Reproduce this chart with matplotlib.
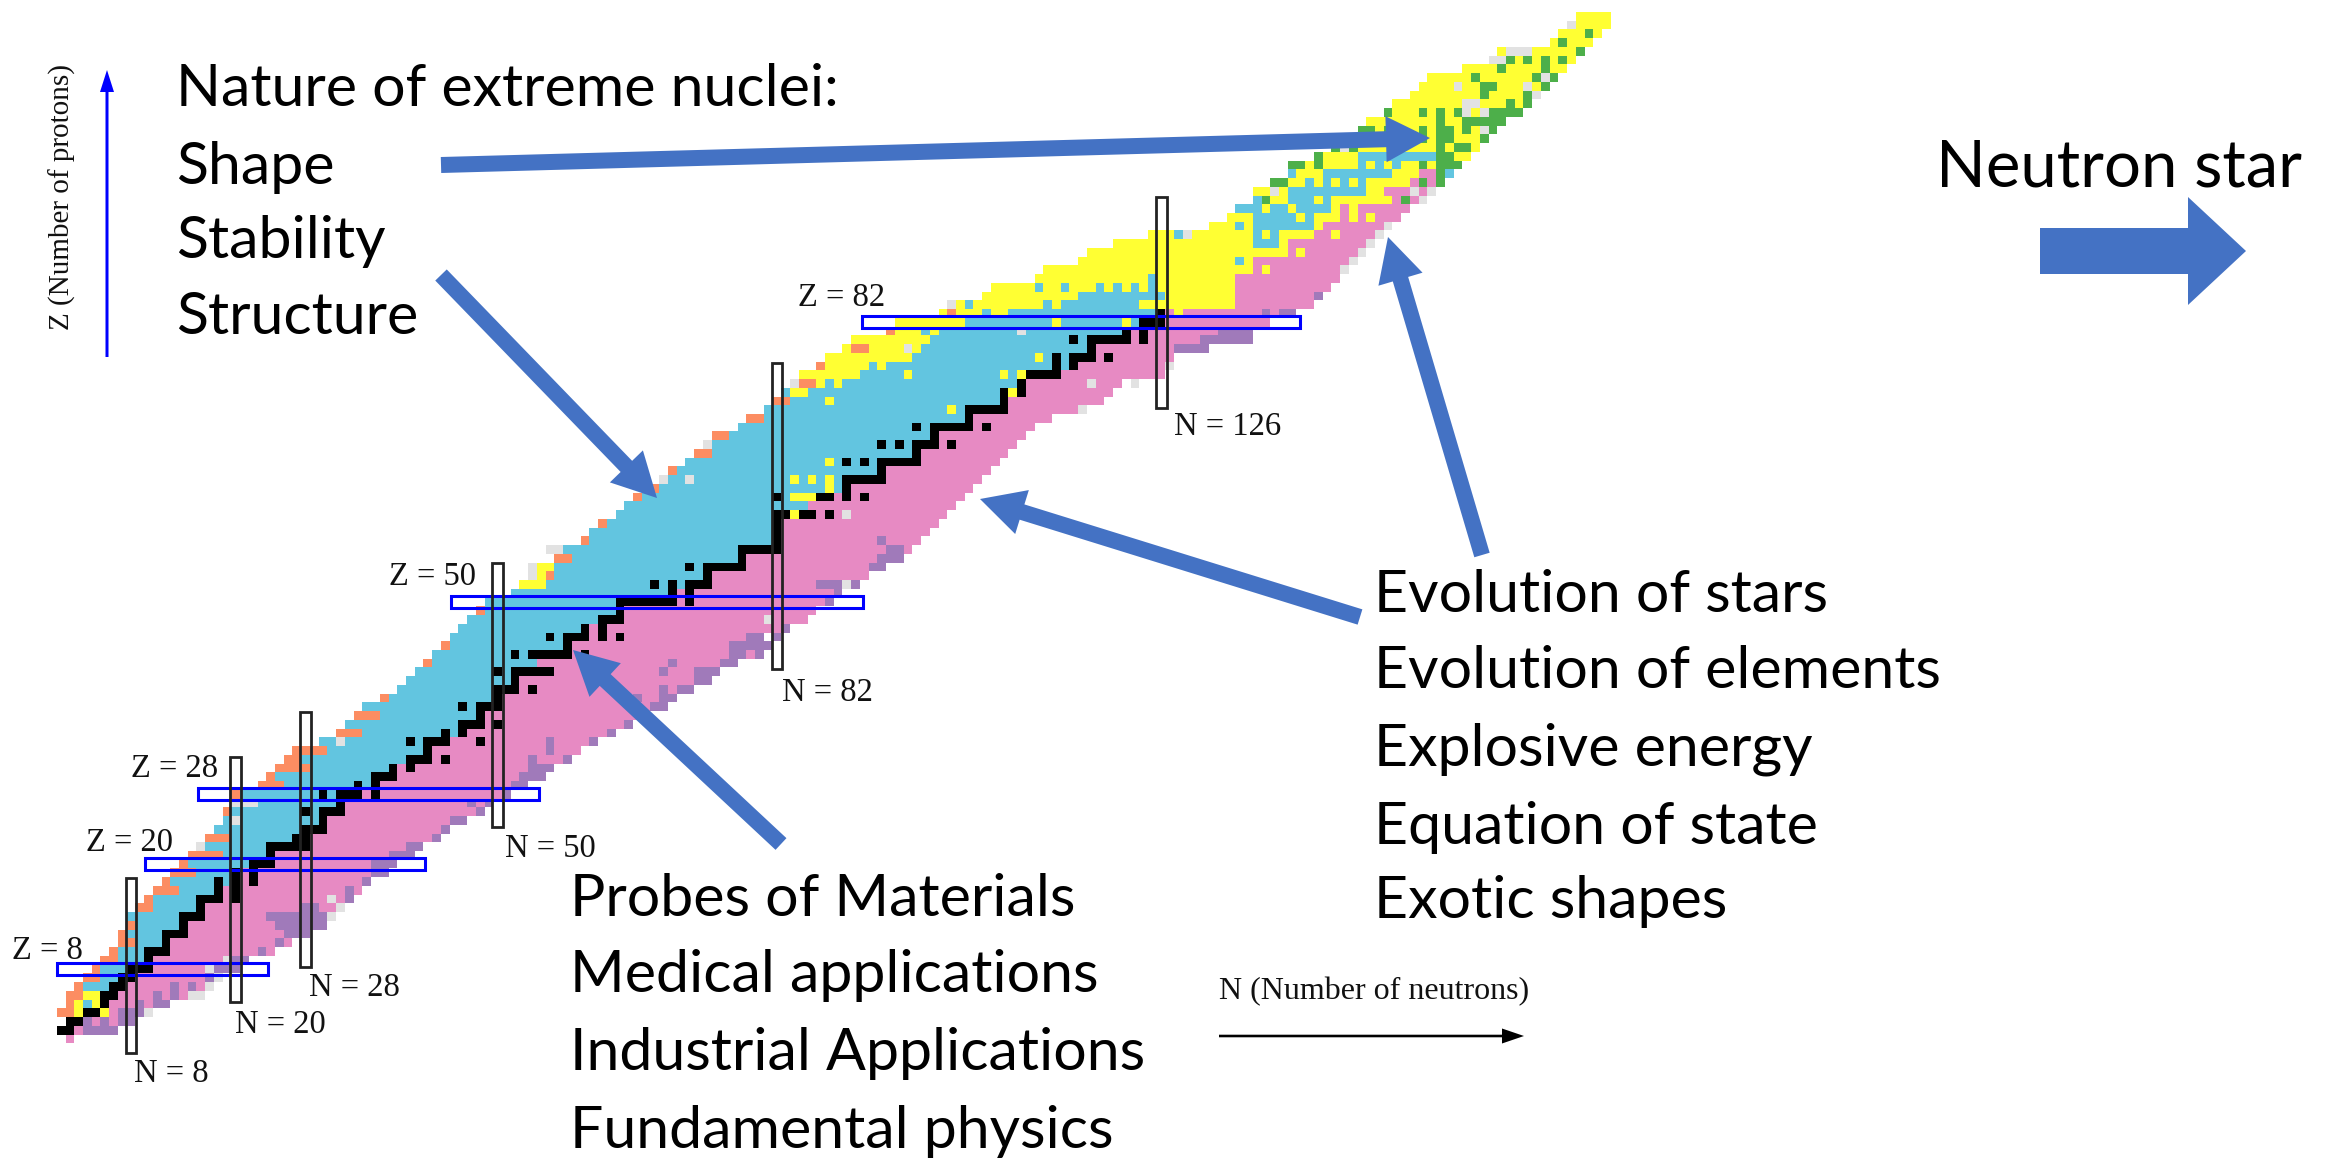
import numpy as np
import matplotlib
matplotlib.use("Agg")
import matplotlib.pyplot as plt
from matplotlib.colors import ListedColormap
from matplotlib.patches import FancyArrow, Rectangle

# ---- chart of nuclides: one row per proton number Z = 0..117 ----
N_FIRST = [1,0,1,0,1,1,2,3,4,5,6,7,7,8,8,9,10,11,12,13,14,15,16,17,18,19,19,20,20,23,24,25,26,27,30,32,33,34,35,37,
           39,40,41,42,43,44,45,46,47,48,49,52,53,54,54,57,56,60,61,62,64,65,66,67,69,70,72,73,74,75,78,79,81,82,83,84,85,87,88,90,
           91,95,96,101,102,106,107,112,113,117,118,121,125,132,134,135,137,137,139,141,141,144,146,148,149,150,152,153,155,156,157,161,164,165,171,172,173,174]
N_LAST = [1,6,8,10,12,16,17,18,20,21,24,26,28,30,31,32,33,34,35,37,38,40,41,43,44,46,48,49,51,53,55,56,58,59,61,63,65,66,69,70,
          72,74,75,77,80,81,80,83,85,86,88,89,91,92,94,96,97,98,99,100,101,102,103,104,105,106,107,108,109,110,111,113,117,119,120,121,126,127,127,131,
          136,136,138,141,143,144,145,146,147,148,149,150,151,152,153,154,156,157,158,159,160,161,162,163,164,165,167,168,169,170,171,172,173,174,175,176,177,177]
N_PINK = [1,2,3,6,6,7,8,9,11,11,13,13,15,15,17,17,19,19,21,21,25,25,29,29,31,31,33,33,35,37,39,39,43,43,45,47,49,49,51,51,
          53,53,57,55,59,59,61,61,65,65,71,71,75,75,79,79,83,83,83,83,87,86,89,91,95,95,99,99,101,101,105,105,109,109,111,111,115,117,119,119,
          123,123,127,127,135,135,135,135,137,137,141,141,144,145,147,147,153,152,155,156,161,162,163,164,165,166,168,169,170,171,172,173,174,175,176,177,178,178]

BLACK = {1:[(0,1)],2:[(1,2)],3:[(3,4)],4:[5],5:[(5,6)],6:[(6,7)],7:[(7,8)],8:[(8,10)],9:[10],10:[(10,12)],11:[12],12:[(12,14)],
         13:[14],14:[(14,16)],15:[16],16:[(16,18),20],17:[18,20],18:[18,20,22],19:[20,22],20:[(22,24)],21:[24],22:[(24,28)],23:[27,28],
         24:[(28,30)],25:[30],26:[28,(30,32)],27:[32],28:[30,(32,34),36],29:[34,36],30:[(36,38)],31:[38,40],32:[(40,42),44],33:[42],
         34:[40,(42,44),48],35:[44,46],36:[(46,48),50],37:[48],38:[46,(48,50)],39:[50],40:[(50,52),54],41:[52],42:[50,(52,56)],
         44:[52,(54,58),60],45:[58],46:[56,(58,60),62,64],47:[60,62],48:[(62,64)],49:[64],50:[(64,70),72],51:[70,72],52:[68,70,(72,74)],
         53:[74],54:[72,(74,78)],55:[78],56:[(78,82)],57:[82],58:[82],59:[82],60:[82,83,85,86,88],62:[82,87,88,90,92],63:[90],64:[(90,94)],
         65:[94],66:[90,92,(94,98)],67:[98],68:[94,96,(98,100),102],69:[100],70:[98,(100,104),106],71:[104],72:[(104,108)],73:[108],
         74:[108,110],75:[110],76:[(111,114)],77:[114,116],78:[114,(116,118),120],79:[118],80:[116,(118,122),124],81:[122,124],
         82:[(124,126)],83:[126]}
YELLOW = {3:[2,5],4:[2,4],5:[(3,4)],52:[(53,55)],53:[55],54:[(55,56)],60:[84],62:[(84,86)],63:[88],64:[84,86,88],66:[88],72:[102],73:[88],
          74:[(84,85),109],75:[87,89],76:[(85,91),97,108,110],77:[(88,92),94],78:[(88,97),112],79:[90,(93,98)],80:[(91,99)],81:[(96,98),100],
          82:[(96,103),114,122],83:[101,(103,105),(107,108),128],84:[103,(105,112),114,(124,134)],85:[(106,116),(127,134)],
          86:[(107,111),(113,114),(116,118),120,122,124,(126,134)],87:[(112,124),(126,134)],88:[(113,136),138],89:[(117,134),136],
          90:[(118,140),142],91:[(121,136),140],92:[(125,127),(130,136),138,(140,143),146],93:[(132,134),136,144],
          94:[(134,136),142,(144,146),148,150],95:[138,141,146,148],96:[(139,140),144,(146,152)],97:[(137,138),140,(150,151)],
          98:[(141,142),144,146,148,(150,154)],99:[(142,144),(153,155)],100:[143,(145,148),150,152,(154,155),157],101:[(145,148),(160,161)],
          102:[(146,162)],103:[(148,163)],104:[(149,164)],105:[(150,165)],106:[(152,167)],107:[(153,168)],108:[(155,169)],109:[(156,170)],
          110:[(157,171)],111:[(161,172)],112:[(164,173)],113:[(165,174)],114:[(171,175)],115:[(172,176)],116:[(173,177)],117:[(174,177)]}
CYAN_EXTRA = {99:[159],101:[(149,157)]}
ORANGE = {3:[(0,1)],4:[1],5:[(1,2)],6:[2],7:[(3,4)],8:[4],9:[(5,6)],10:[6],11:[(7,8)],12:[7],13:[8],15:[(9,10)],16:[10],17:[(11,13)],18:[12],
          19:[(13,15)],20:[14],21:[(15,18)],23:[(17,19)],26:[19],28:[20],29:[(23,25)],30:[24],31:[(25,28)],32:[(26,27)],33:[(27,30)],
          35:[(32,34)],37:[(34,36)],39:[37],43:[42],45:[44],49:[48],53:[56],55:[(57,58)],57:[60],59:[62],62:[66],63:[68],65:[70],
          67:[(73,74)],69:[(75,76)],71:[(79,80)],73:[(82,83)],75:[(85,86)],77:[87],79:[(91,92)],81:[95],83:[102]}
GREY = {3:[10],5:[(15,16)],6:[17],7:[18],8:[17],9:[19],14:[31],15:[32],16:[31],22:[16],25:[20],27:[(20,22)],34:[32],48:[81],52:[90],53:[54],54:[54],
        56:[(56,57)],60:[90],64:[69,72],68:[74],72:[117],75:[84,118,123],77:[127],79:[97],81:[110],84:[102],88:[147],89:[148],90:[149],91:[150],
        92:[129,151],93:[152],96:[156],97:[139,155,157],102:[147],104:[163],106:[161,163],107:[(161,162)],108:[169],109:[160,168],110:[170],
        112:[(164,165)],113:[(166,168)],116:[173]}
PURPLE = {1:[(3,6)],2:[3,5,(7,8)],3:[(7,9)],4:[9,(11,12)],5:[11,13],6:[13,15],7:[17],8:[(18,20)],9:[(20,21)],10:[23],11:[25],12:[(26,28)],
          13:[(25,30)],14:[(24,30)],15:[(28,29)],16:[33],17:[33],18:[35],19:[(36,37)],20:[(36,38)],21:[(38,40)],22:[(40,41)],23:[43],24:[44],
          25:[(45,46)],26:[48],27:[47,49],28:[51],29:[(52,53)],30:[(53,55)],31:[(54,56)],32:[54,58],33:[56],34:[56,61],35:[63],36:[65],
          38:[(68,69)],39:[66,(69,70)],40:[69,(71,72)],41:[(73,74)],42:[69,(73,75)],43:[70,(76,77)],44:[(77,78),80],45:[(77,81)],46:[(79,80),82],
          47:[83],50:[88],51:[89],52:[(87,89),91],54:[(93,94)],55:[(94,96)],56:[(95,96)],57:[94],79:[(128,131)],80:[(131,136)],81:[(133,136)],
          83:[138,(140,141)],85:[144]}
GREEN = {96:[138,154],98:[(139,140),156,158],99:[158],100:[(141,142),144,156,(158,160)],101:[144,(158,159)],102:[146,148,158,(160,161)],
         103:[156,(158,159),163],104:[(149,150),152,156,(158,159),161,164],105:[158,(161,165)],106:[152,156,158,160,(164,167)],
         107:[166,168],108:[163,168],109:[(163,164),170],110:[162,169,171],111:[165,170],112:[166,168,170,172],113:[174],114:[172],115:[175]}

MAGIC_Z = {8:(-0.5,23.7),20:(9.6,41.7),28:(15.7,54.7),50:(44.7,91.8),82:(91.7,141.9)}
MAGIC_N = {8:(-1.6,18.4),20:(4.2,32.3),28:(8.2,37.4),50:(24.2,54.4),82:(42.3,77.3),126:(72.2,96.3)}

Z_LABELS = {"Z = 8":(12,951),"Z = 20":(86,843),"Z = 28":(131,769),"Z = 50":(389,577),"Z = 82":(798,298)}
N_LABELS = {"N = 8":(134,1074),"N = 20":(235,1025),"N = 28":(309,988),"N = 50":(505,849),"N = 82":(782,693),"N = 126":(1174,427)}
TEXT_TOPLEFT = ["Nature of extreme nuclei:","Shape","Stability","Structure"]
TEXT_TOPLEFT_Y = [89,167,242,318]
TEXT_RIGHT = ["Evolution of stars","Evolution of elements","Explosive energy","Equation of state","Exotic shapes"]
TEXT_RIGHT_Y = [595,672,749,827,902]
TEXT_BOTTOM = ["Probes of Materials","Medical applications","Industrial Applications","Fundamental physics"]
TEXT_BOTTOM_Y = [899,975,1053,1131]
ARROWS = [((441,165),(1430,138)),((441,275),(657,498)),((781,844),(573,650)),((1360,617),(980,499)),((1482,555),(1388,237))]

COLORS = ["#E78AC3","#62C5E0","#FFFF33","#FC8D62","#E2E2E2","#A07ABA","#4DAF4A","#000000"]
PINK,CY,YE,OR,GR,PU,GN,BK = range(8)
ARROW_BLUE = "#4472C4"

W,H = 2331,1161
fig = plt.figure(figsize=(W/100,H/100),dpi=100,facecolor="white")

def expand(items):
    for it in items:
        if isinstance(it,tuple):
            yield from range(it[0],it[1]+1)
        else:
            yield it

grid = np.full((118,179),-1)
for z in range(118):
    grid[z,N_FIRST[z]:N_LAST[z]+1] = CY
    start = max(N_PINK[z],N_FIRST[z])
    if start <= N_LAST[z]:
        grid[z,start:N_LAST[z]+1] = PINK
for table,code in [(YELLOW,YE),(CYAN_EXTRA,CY),(ORANGE,OR),(GREY,GR),(PURPLE,PU),(GREEN,GN),(BLACK,BK)]:
    for z,items in table.items():
        for n in expand(items):
            grid[z,n] = code

# data axes: x = N, y = Z, filling the whole figure
ax = fig.add_axes([0,0,1,1])
ax.set_xlim(-7.005,-7.005+W/8.73)
ax.set_ylim(8+(969-H)/8.74,8+969/8.74)
ax.axis("off")
cmap = ListedColormap(COLORS)
ax.pcolormesh(np.arange(180)-0.5,np.arange(119)-0.5,np.ma.masked_less(grid,0),cmap=cmap,vmin=-0.5,vmax=7.5,antialiased=False,linewidth=0)
for z,(a,b) in MAGIC_Z.items():
    ax.add_patch(Rectangle((a,z-0.68),b-a,1.36,fill=False,ec="#0000FF",lw=2.2,zorder=5))
for n,(a,b) in MAGIC_N.items():
    ax.add_patch(Rectangle((n-0.62,a),1.24,b-a,fill=False,ec="#222222",lw=2.0,zorder=6))

# annotation layer in picture pixels
ov = fig.add_axes([0,0,1,1])
ov.set_xlim(0,W); ov.set_ylim(H,0); ov.axis("off"); ov.patch.set_alpha(0)
for (x0,y0),(x1,y1) in ARROWS:
    ov.add_patch(FancyArrow(x0,y0,x1-x0,y1-y0,width=16,head_width=46,head_length=44,length_includes_head=True,color=ARROW_BLUE,lw=0,zorder=8))
ov.add_patch(FancyArrow(2040,251,206,0,width=46,head_width=108,head_length=58,length_includes_head=True,color=ARROW_BLUE,lw=0,zorder=8))
ov.add_patch(FancyArrow(1219,1036,305,0,width=2.6,head_width=15,head_length=22,length_includes_head=True,color="black",lw=0))
ov.add_patch(FancyArrow(107,357,0,-287,width=3,head_width=14,head_length=22,length_includes_head=True,color="#0000FF",lw=0))

SANS = dict(family="Lato",fontsize=42.5,va="center",ha="left",color="black",zorder=10)
for label,y in zip(TEXT_TOPLEFT,TEXT_TOPLEFT_Y):
    ov.text(176,y,label,**SANS)
for label,y in zip(TEXT_RIGHT,TEXT_RIGHT_Y):
    ov.text(1374,y,label,**SANS)
for label,y in zip(TEXT_BOTTOM,TEXT_BOTTOM_Y):
    ov.text(570,y,label,**SANS)
ov.text(1936,168,"Neutron star",**{**SANS,"fontsize":47})

SERIF = dict(family="Liberation Serif",fontsize=23.5,va="center",ha="left",color="#111111",zorder=10)
for label,(x,y) in {**Z_LABELS,**N_LABELS}.items():
    ov.text(x,y,label,**SERIF)
ov.text(1219,992,"N (Number of neutrons)",family="Liberation Serif",fontsize=23,va="center",ha="left",color="#111111")
ov.text(62,197,"Z (Number of protons)",family="Liberation Serif",fontsize=21,va="center",ha="center",rotation=90,color="#111111")

fig.savefig("out.png",dpi=100)
